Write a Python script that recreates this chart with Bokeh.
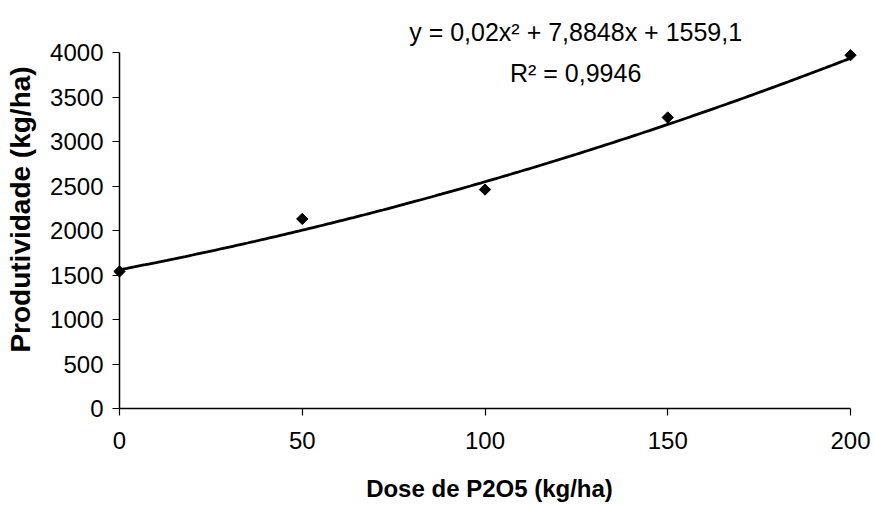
import numpy as np
from bokeh.plotting import figure
from bokeh.models import Range1d, FixedTicker, Label
from bokeh.embed import file_html
from bokeh.resources import INLINE

# ---- data ----
dose = [0, 50, 100, 150, 200]                     # kg/ha P2O5
produtividade = [1540, 2130, 2460, 3270, 3970]    # kg/ha
trend_coef = [0.02, 7.8848, 1559.1]               # y = a x^2 + b x + c (as printed)
x_ticks = [0, 50, 100, 150, 200]
y_ticks = [0, 500, 1000, 1500, 2000, 2500, 3000, 3500, 4000]
eq_text = "y = 0,02x\u00b2 + 7,8848x + 1559,1"
r2_text = "R\u00b2 = 0,9946"
x_title = "Dose de P2O5 (kg/ha)"
y_title = "Produtividade (kg/ha)"

FONT = "Liberation Sans"

p = figure(frame_width=740, frame_height=398,
           min_border_left=119, min_border_right=15,
           min_border_top=10, min_border_bottom=98,
           x_range=Range1d(0, 202.46), y_range=Range1d(0, 4472),
           output_backend="svg", toolbar_location=None)

p.xgrid.visible = False
p.ygrid.visible = False
p.outline_line_color = None
p.background_fill_color = "white"
p.border_fill_color = "white"

# axes
for ax in (p.xaxis, p.yaxis):
    ax.axis_line_color = "black"
    ax.axis_line_width = 1.5
    ax.major_tick_line_color = "black"
    ax.major_tick_line_width = 1.2
    ax.major_tick_out = 7
    ax.major_tick_in = 0
    ax.minor_tick_line_color = None
    ax.major_label_text_font = FONT
    ax.major_label_text_font_size = "24px"
    ax.major_label_text_color = "black"
    ax.axis_label_text_font = FONT
    ax.axis_label_text_font_style = "bold"
    ax.axis_label_text_color = "black"

p.xaxis.ticker = FixedTicker(ticks=x_ticks)
p.yaxis.ticker = FixedTicker(ticks=y_ticks)
p.xaxis.bounds = (0, 200)
p.yaxis.bounds = (0, 4000)
p.xaxis.major_label_standoff = 16
p.yaxis.major_label_standoff = 9

p.xaxis.axis_label = x_title
p.xaxis.axis_label_text_font_size = "24px"
p.xaxis.axis_label_standoff = 23

p.yaxis.axis_label = y_title
p.yaxis.axis_label_text_font_size = "28px"
p.yaxis.axis_label_standoff = 11

# trendline from the printed equation
a, b, c = trend_coef
xs = np.linspace(min(dose), max(dose), 201)
ys = a * xs ** 2 + b * xs + c
p.line(xs, ys, line_color="black", line_width=2.8)

# observed points (diamonds)
p.scatter(dose, produtividade, marker="square", angle=np.pi / 4, size=8,
          color="black", level="overlay")

# equation text
p.add_layout(Label(x=124.8, y=4230, text=eq_text, text_align="center",
                   text_baseline="middle", text_font=FONT,
                   text_font_size="25px", text_color="black"))
p.add_layout(Label(x=124.8, y=3775, text=r2_text, text_align="center",
                   text_baseline="middle", text_font=FONT,
                   text_font_size="25px", text_color="black"))

open("out.html", "w").write(file_html(p, INLINE))
